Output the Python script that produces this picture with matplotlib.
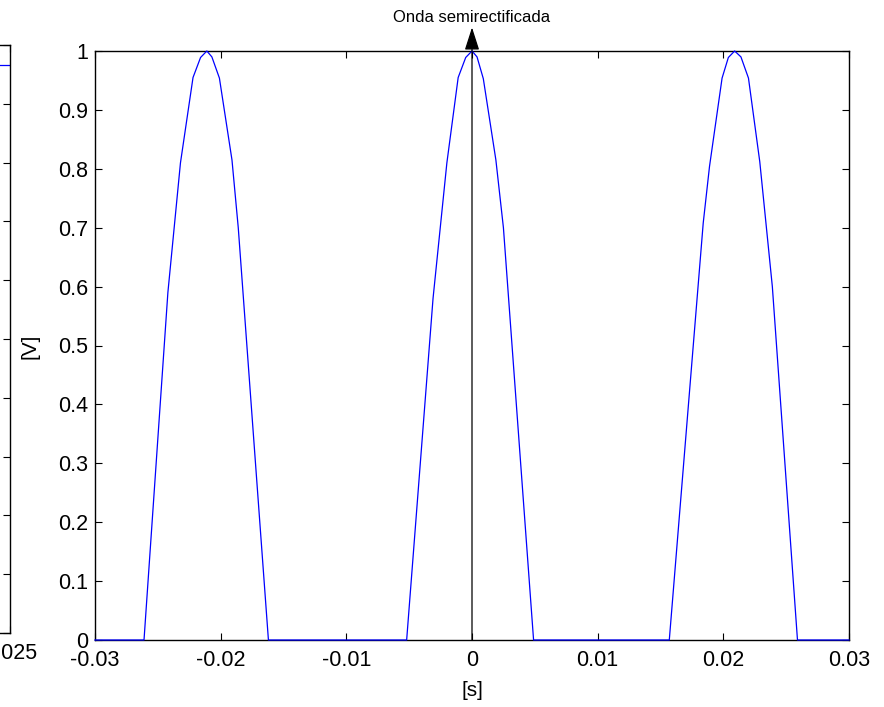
import matplotlib
matplotlib.use("Agg")
import matplotlib.pyplot as plt

# half-wave rectified signal, vertices
t_s = [-0.0300, -0.0261, -0.0242, -0.0232, -0.0222, -0.0216, -0.0211, -0.0207,
       -0.0201, -0.0191, -0.0186, -0.0162,
       -0.0052, -0.0031, -0.0020, -0.0011, -0.0005, 0.0000, 0.0004, 0.0009,
       0.0019, 0.0025, 0.0049,
       0.0157, 0.0184, 0.0189, 0.0199, 0.0204, 0.0209, 0.0214, 0.0220,
       0.0229, 0.0239, 0.0259, 0.0300]
v_s = [0.0, 0.0, 0.59, 0.81, 0.955, 0.989, 1.0, 0.99,
       0.954, 0.815, 0.70, 0.0,
       0.0, 0.58, 0.81, 0.955, 0.989, 1.0, 0.99, 0.953,
       0.815, 0.70, 0.0,
       0.0, 0.708, 0.804, 0.954, 0.989, 1.0, 0.99, 0.954,
       0.812, 0.60, 0.0, 0.0]

x_ticks = [-0.03, -0.02, -0.01, 0, 0.01, 0.02, 0.03]
x_ticklabels = ["-0.03", "-0.02", "-0.01", "0", "0.01", "0.02", "0.03"]
y_ticks = [0, 0.1, 0.2, 0.3, 0.4, 0.5, 0.6, 0.7, 0.8, 0.9, 1]
y_ticklabels = ["0", "0.1", "0.2", "0.3", "0.4", "0.5", "0.6", "0.7", "0.8", "0.9", "1"]

# neighbouring subplot, only its right edge is visible
left_t = [0.015, 0.025]
left_v = [0.966, 0.966]

plt.rcParams["font.family"] = ["Liberation Sans", "DejaVu Sans"]

W, H = 884, 707
fig = plt.figure(figsize=(W / 100, H / 100), dpi=100)

def px_box(l, t, r, b):
    return [l / W, 1 - b / H, (r - l) / W, (b - t) / H]

def style(ax):
    ax.tick_params(direction="in", length=5, width=0.8, top=True, right=True,
                   labelsize=15.5, pad=5, colors="black")
    ax.tick_params(axis="x", pad=7)
    for s in ax.spines.values():
        s.set_linewidth(1.0)
        s.set_color("black")

# partial left axes
axl = fig.add_axes(px_box(10 - 754, 45, 10, 633))
axl.plot(left_t, left_v, color="#0000FF", lw=0.9)
axl.set_xlim(-0.025, 0.025)
axl.set_ylim(0, 1)
axl.set_xticks([-0.025, 0, 0.025])
axl.set_xticklabels(["-0.025", "0", "0.025"])
axl.set_yticks(y_ticks)
axl.set_yticklabels([])
style(axl)

# main axes
ax = fig.add_axes(px_box(95, 51, 849, 640))
ax.plot(t_s, v_s, color="#0000FF", lw=0.9, clip_on=False, zorder=3)
ax.set_xlim(-0.03, 0.03)
ax.set_ylim(0, 1)
ax.set_xticks(x_ticks)
ax.set_xticklabels(x_ticklabels)
ax.set_yticks(y_ticks)
ax.set_yticklabels(y_ticklabels)
style(ax)

# vertical marker with arrow at t = 0
ax.annotate("", xy=(0, 1.04), xytext=(0, 0),
            arrowprops=dict(arrowstyle="-|>,head_length=1.4,head_width=0.45",
                            color="black", lw=0.9, shrinkA=0, shrinkB=0),
            annotation_clip=False, zorder=4)

fig.text(472 / W, 1 - 18 / H, "Onda semirectificada", ha="center", va="center",
         fontsize=12)
fig.text(472 / W, 1 - 690 / H, "[s]", ha="center", va="center", fontsize=15)
fig.text(30 / W, 1 - 346 / H, "[V]", ha="center", va="center", fontsize=15,
         rotation=90)

fig.savefig("out.png", dpi=100)
